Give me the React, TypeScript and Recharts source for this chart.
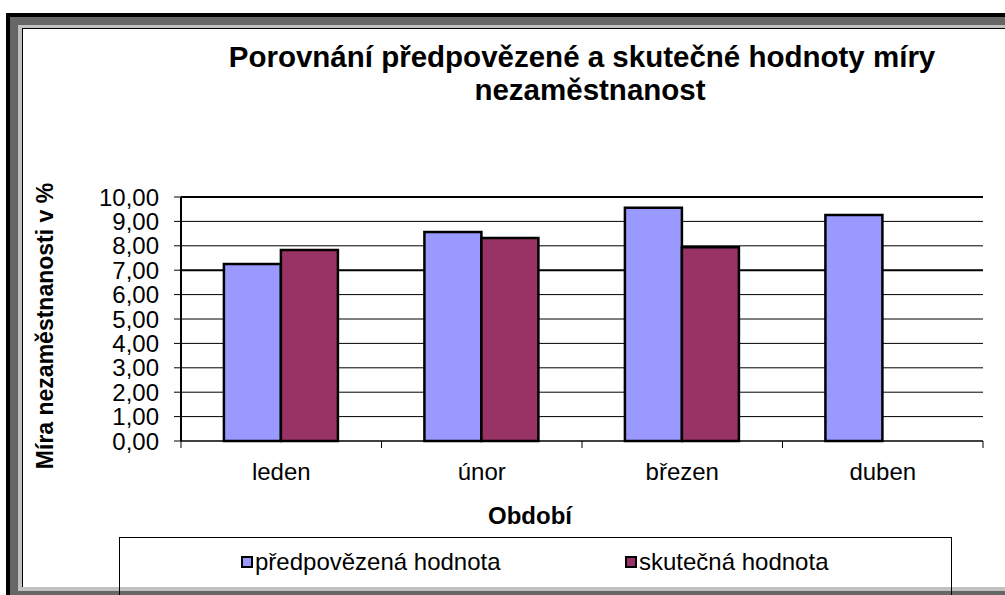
import React from "react";
import { BarChart, Bar, XAxis, YAxis, CartesianGrid, Legend, Label } from "recharts";

const months = ["leden", "únor", "březen", "duben"];
const predicted = [7.25, 8.57, 9.56, 9.26];
const actual: (number | null)[] = [7.83, 8.32, 7.94, null];
const yTicks = [0, 1, 2, 3, 4, 5, 6, 7, 8, 9, 10];
const boldTicks = [7, 10];

const data = months.map((m, i) => ({ month: m, predicted: predicted[i], actual: actual[i] }));

const W = 1005;
const H = 595;
const PLOT_LEFT = 181;
const PLOT_RIGHT = 983;
const BAND = (PLOT_RIGHT - PLOT_LEFT) / months.length;
const FONT = "'Liberation Sans', Arial, sans-serif";

function MonthTick(props: any) {
  const { x, y, payload, index } = props;
  return (
    <g>
      <line x1={x - BAND / 2} x2={x - BAND / 2} y1={y} y2={y + 7} stroke="#000" strokeWidth={1} />
      {index === months.length - 1 && (
        <line x1={x + BAND / 2} x2={x + BAND / 2} y1={y} y2={y + 7} stroke="#000" strokeWidth={1} />
      )}
      <text x={x} y={y + 39} textAnchor="middle" fontSize={24} fontFamily={FONT} fill="#000">
        {payload.value}
      </text>
    </g>
  );
}

// excel screenshot shows the 7 and 10 gridlines heavier
function GridLine(props: any) {
  const { x1, x2, y1, y2, index } = props;
  const heavy = boldTicks.includes(yTicks[index]);
  return <line x1={x1} x2={x2} y1={y1} y2={y2} stroke="#000" strokeWidth={heavy ? 2 : 1} />;
}

function LegendBox(props: any) {
  const items = props.payload || [];
  const lefts = [121, 505];
  return (
    <div
      style={{
        position: "relative",
        width: 833,
        height: 58,
        borderTop: "1px solid #000",
        borderLeft: "1px solid #000",
        borderRight: "1px solid #000",
        boxSizing: "border-box",
        fontFamily: FONT,
        fontSize: 24,
        color: "#000",
      }}
    >
      {items.map((it: any, i: number) => (
        <div
          key={it.value}
          style={{ position: "absolute", left: lefts[i], top: 10, display: "flex", alignItems: "center", whiteSpace: "nowrap" }}
        >
          <span
            style={{
              display: "inline-block",
              width: 8,
              height: 8,
              border: "2px solid #000",
              background: it.color,
              marginRight: 2,
            }}
          />
          <span>{it.value}</span>
        </div>
      ))}
    </div>
  );
}

export default function App() {
  return (
    <div style={{ position: "absolute", left: 0, top: 0, width: W, height: H, overflow: "hidden", background: "#fff" }}>
      <svg width={W} height={H} style={{ position: "absolute", left: 0, top: 0 }}>
        <rect x={6} y={13} width={W} height={H} fill="#000" />
        <rect x={10} y={17} width={W} height={H} fill="#666" />
        <rect x={18} y={25} width={W} height={591 - 25} fill="#c0c0c0" />
        <rect x={22} y={28} width={W} height={587 - 28} fill="#000" />
        <rect x={23} y={29} width={W} height={587 - 29} fill="#fff" />
        <text x={582} y={67} textAnchor="middle" fontSize={29.5} fontWeight="bold" fontFamily={FONT} fill="#000">
          Porovnání předpovězené a skutečné hodnoty míry
        </text>
        <text x={590} y={100} textAnchor="middle" fontSize={29.5} fontWeight="bold" fontFamily={FONT} fill="#000">
          nezaměstnanost
        </text>
      </svg>
      <div style={{ position: "absolute", left: 0, top: 0 }}>
        <BarChart
          width={W}
          height={H}
          data={data}
          margin={{ top: 197, right: W - PLOT_RIGHT, bottom: 36, left: 0 }}
          barCategoryGap="21.4%"
          barGap={0}
        >
          <CartesianGrid vertical={false} horizontal={(p: any) => <GridLine key={p.key ?? p.index} {...p} />} />
          <XAxis
            dataKey="month"
            height={60}
            tickLine={false}
            tickSize={0}
            tickMargin={0}
            axisLine={{ stroke: "#000", strokeWidth: 1 }}
            tick={<MonthTick />}
            interval={0}
          >
            <Label
              content={() => (
                <text x={530} y={524} textAnchor="middle" fontSize={24} fontWeight="bold" fontFamily={FONT} fill="#000">
                  Období
                </text>
              )}
            />
          </XAxis>
          <YAxis
            type="number"
            domain={[0, 10]}
            ticks={yTicks}
            interval={0}
            width={PLOT_LEFT}
            tickSize={7}
            tickMargin={15}
            tickLine={{ stroke: "#000" }}
            axisLine={{ stroke: "#000", strokeWidth: 2 }}
            tick={{ fontSize: 24, fill: "#000", fontFamily: FONT }}
            tickFormatter={(v: number) => v.toFixed(2).replace(".", ",")}
          >
            <Label
              content={() => (
                <text
                  x={53}
                  y={326}
                  transform="rotate(-90, 53, 326)"
                  textAnchor="middle"
                  fontSize={23}
                  fontWeight="bold"
                  fontFamily={FONT}
                  fill="#000"
                >
                  Míra nezaměstnanosti v %
                </text>
              )}
            />
          </YAxis>
          <Legend
            content={<LegendBox />}
            wrapperStyle={{ left: 119, top: 537, width: 833, height: 58 }}
          />
          <Bar
            dataKey="predicted"
            name="předpovězená hodnota"
            fill="#9999FF"
            stroke="#000"
            strokeWidth={2.5}
            isAnimationActive={false}
          />
          <Bar
            dataKey="actual"
            name="skutečná hodnota"
            fill="#993366"
            stroke="#000"
            strokeWidth={2.5}
            isAnimationActive={false}
          />
        </BarChart>
      </div>
    </div>
  );
}
